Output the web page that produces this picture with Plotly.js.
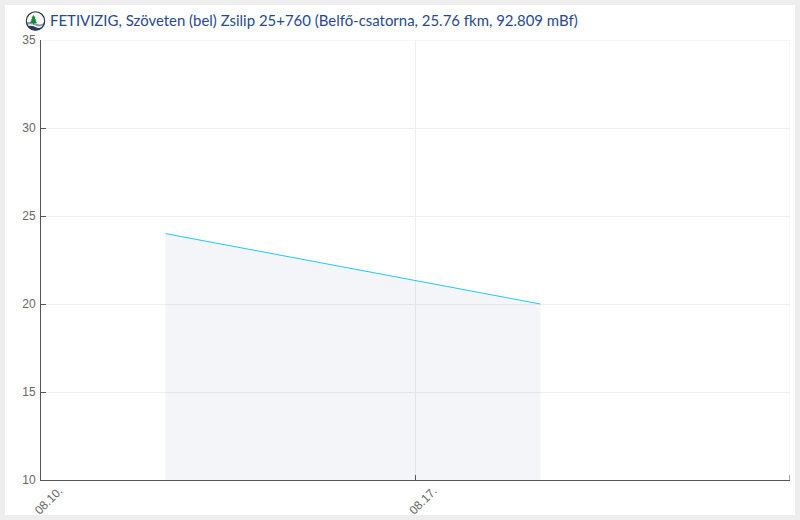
<!DOCTYPE html>
<html><head><meta charset="utf-8">
<script src="https://cdn.plot.ly/plotly-3.0.1.min.js"></script>
<style>html,body{margin:0;padding:0;background:#eeeeee;width:800px;height:520px;overflow:hidden}
#c{position:absolute;left:5px;top:5px;width:790px;height:510px}</style>
</head><body><div id="c"></div>
<script>
const chartTitle = "FETIVIZIG, Szöveten (bel) Zsilip 25+760 (Belfő-csatorna, 25.76 fkm, 92.809 mBf)";
const dates = ["2023-08-12 07:50", "2023-08-19 08:00"];
const values = [24, 20];
const xTickVals = ["2023-08-10", "2023-08-17", "2023-08-24"];
const xTickText = ["08.10.", "08.17.", " "];
const yTickVals = [10, 15, 20, 25, 30, 35];
const xEnd = xTickVals[2];
const yEnd = yTickVals[5];
const logoSvg = '<svg xmlns="http://www.w3.org/2000/svg" viewBox="0 0 40 40"><defs><clipPath id="k"><circle cx="20" cy="20" r="18.500"/></clipPath></defs><circle cx="20" cy="20" r="18.500" fill="#f6f8f6"/><g clip-path="url(#k)"><path d="M0 24 Q12 19 22 25 T40 19 V40 H0Z" fill="#8a98a6"/><path d="M0 29 Q10 24 20 29 T40 25 V40 H0Z" fill="#ffffff"/><path d="M0 32 Q10 27 20 32 T40 28 V40 H0Z" fill="#24405f"/><path d="M16 8 L20 14 L18 14 L22 19 L19.500 19 L23 24 H17 V27 H15 V24 H9 L12.500 19 L10 19 L14 14 L12 14Z" fill="#0f8a3c"/></g><circle cx="20" cy="20" r="18.500" fill="none" stroke="#27334a" stroke-width="2.400"/></svg>';

const titleFont = "Lato, sans-serif";
const tickFont = "'Liberation Sans', Arial, sans-serif";
Plotly.newPlot("c", [{
  type: "scatter", mode: "lines", x: dates, y: values,
  fill: "tozeroy", fillcolor: "rgba(38,55,122,0.05)",
  line: {color: "#25c6f5", width: 1}, hoverinfo: "x+y"
}], {
  width: 790, height: 510,
  margin: {l: 35.5, r: 4.5, t: 35, b: 35, pad: 0},
  paper_bgcolor: "#ffffff", plot_bgcolor: "#ffffff",
  showlegend: false,
  font: {family: tickFont, size: 12, color: "#666666"},
  title: {text: chartTitle, x: 45/790, xanchor: "left", y: 1-16/510, yanchor: "middle",
          xref: "container", yref: "container",
          font: {family: titleFont, size: 14.95, color: "#274a8c"}},
  xaxis: {type: "date", range: ["2023-08-10", "2023-08-24"],
          tickmode: "array", tickvals: xTickVals, ticktext: xTickText, tickangle: -45,
          ticklabelshift: 18, ticklabelstandoff: -2,
          ticks: "inside", ticklen: 5, tickcolor: "#555555", tickwidth: 1,
          showline: true, linecolor: "#555555", linewidth: 1,
          showgrid: true, gridcolor: "#eeeeee", gridwidth: 1, zeroline: false,
          tickfont: {family: tickFont, size: 12, color: "#666666"}},
  yaxis: {range: [10, 35], tickmode: "array", tickvals: yTickVals,
          ticks: "inside", ticklen: 5, tickcolor: "#555555", tickwidth: 1,
          ticklabelstandoff: 2,
          showline: true, linecolor: "#555555", linewidth: 1,
          showgrid: true, gridcolor: "#eeeeee", gridwidth: 1, zeroline: false,
          tickfont: {family: tickFont, size: 12, color: "#666666"}},
  shapes: [
    {type: "line", layer: "below", xref: "x", yref: "paper", x0: xEnd, x1: xEnd, y0: 0, y1: 1, line: {color: "#eeeeee", width: 1}},
    {type: "line", layer: "below", xref: "paper", yref: "y", x0: 0, x1: 1, y0: yEnd, y1: yEnd, line: {color: "#eeeeee", width: 1}},
    {type: "line", layer: "above", xref: "x", yref: "paper", x0: xEnd, x1: xEnd, y0: 0, y1: 5/440, line: {color: "#555555", width: 1}}
  ],
  images: [{source: "data:image/svg+xml;utf8," + encodeURIComponent(logoSvg),
            xref: "paper", yref: "paper", x: -15.5/750, y: 1+29/440, sizex: 20/750, sizey: 20/440,
            xanchor: "left", yanchor: "top", sizing: "contain", layer: "above"}]
}, {displayModeBar: false, staticPlot: true});
</script></body></html>
